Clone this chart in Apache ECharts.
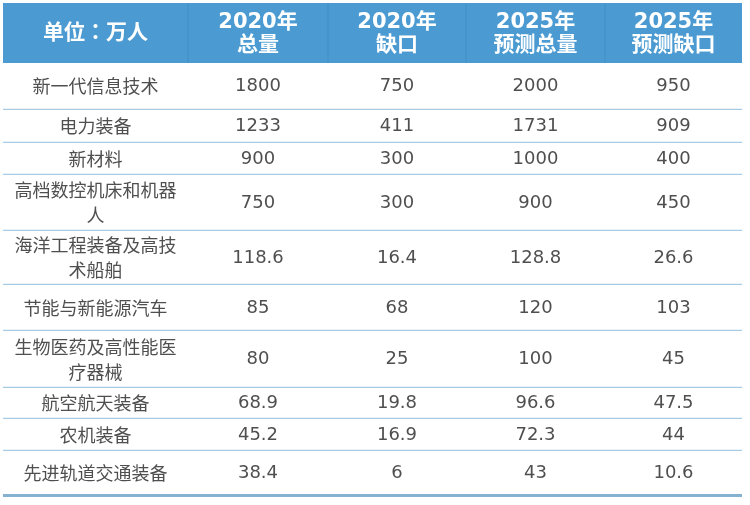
<!DOCTYPE html>
<html><head><meta charset="utf-8">
<script src="https://cdn.jsdelivr.net/npm/echarts@6/dist/echarts.min.js"></script>
<style>html,body{margin:0;padding:0;background:#fff}#c{width:750px;height:505px}</style>
</head><body><div id="c"></div>
<script>
// ---- data ----
const cornerLabel = '单位：万人';
const columnHeaders = ['2020年\n总量', '2020年\n缺口', '2025年\n预测总量', '2025年\n预测缺口'];
const industries = ['新一代信息技术', '电力装备', '新材料', '高档数控机床和机器人', '海洋工程装备及高技术船舶',
  '节能与新能源汽车', '生物医药及高性能医疗器械', '航空航天装备', '农机装备', '先进轨道交通装备'];
const total2020 = [1800, 1233, 900, 750, 118.6, 85, 80, 68.9, 45.2, 38.4];
const gap2020 = [750, 411, 300, 300, 16.4, 68, 25, 19.8, 16.9, 6];
const total2025 = [2000, 1731, 1000, 900, 128.8, 120, 100, 96.6, 72.3, 43];
const gap2025 = [950, 909, 400, 450, 26.6, 103, 45, 47.5, 44, 10.6];

// ---- layout (sizes of table cells, in axis units) ----
const colWidths = [185, 140, 138, 139, 137];
const headerHeight = 60;
const rowHeights = [47, 33, 32, 56, 54, 46, 57, 31, 32, 46];

const colEdges = [0];
colWidths.forEach(w => colEdges.push(colEdges[colEdges.length - 1] + w));
const rowEdges = [0, headerHeight];
rowHeights.forEach(h => rowEdges.push(rowEdges[rowEdges.length - 1] + h));

const headerTexts = [cornerLabel].concat(columnHeaders);
const valueCols = [total2020, gap2020, total2025, gap2025];

const headerData = headerTexts.map((t, i) => [i, 0]);
const bodyData = [];
const bodyTexts = [];
industries.forEach((name, r) => {
  bodyData.push([0, r + 1]); bodyTexts.push(name);
  valueCols.forEach((arr, c) => { bodyData.push([c + 1, r + 1]); bodyTexts.push(String(arr[r])); });
});

const FONT = '"DejaVu Sans", Verdana, "Noto Sans CJK SC", sans-serif';
const HEAD_FONT = '"DejaVu Sans", Verdana, "Noto Sans CJK JP", sans-serif';
const lastRow = industries.length;

function cellRect(api) {
  const c = api.value(0), r = api.value(1);
  const p0 = api.coord([colEdges[c], rowEdges[r]]);
  const p1 = api.coord([colEdges[c + 1], rowEdges[r + 1]]);
  return { c, r, x: p0[0], y: p0[1], w: p1[0] - p0[0], h: p1[1] - p0[1] };
}

function renderHeader(params, api) {
  const { c, x, y, w, h } = cellRect(api);
  const children = [
    { type: 'rect', shape: { x, y, width: w, height: h }, style: { fill: '#4b9bd2' } },
    { type: 'text', style: {
      x: x + w / 2, y: y + h / 2 + 1, text: headerTexts[params.dataIndex],
      align: 'center', verticalAlign: 'middle', textAlign: 'center', textVerticalAlign: 'middle',
      fill: '#ffffff', fontFamily: HEAD_FONT, fontWeight: 'bold', fontSize: 21, lineHeight: 23 } }
  ];
  if (c > 0) children.push({ type: 'line', shape: { x1: x, y1: y, x2: x, y2: y + h },
    style: { stroke: 'rgba(40,120,180,0.3)', lineWidth: 1 } });
  return { type: 'group', children };
}

function renderBody(params, api) {
  const { c, r, x, y, w, h } = cellRect(api);
  const isLabel = c === 0;
  const last = r === lastRow;
  const children = [
    { type: 'rect', shape: { x, y, width: w, height: h }, style: { fill: '#ffffff' } },
    { type: 'text', style: {
      x: x + w / 2, y: y + h / 2 + (last ? -1 : 0), text: bodyTexts[params.dataIndex],
      align: 'center', verticalAlign: 'middle', textAlign: 'center', textVerticalAlign: 'middle',
      width: isLabel ? 172 : w, overflow: 'break',
      fill: '#4f4f4f', fontFamily: isLabel ? '"Noto Sans CJK SC", sans-serif' : FONT,
      fontSize: 18, lineHeight: 25 } },
    { type: 'line', shape: { x1: x, y1: y + h - (last ? 1.5 : 0.5), x2: x + w, y2: y + h - (last ? 1.5 : 0.5) },
      style: { stroke: last ? '#86b2d2' : '#a7cae5', lineWidth: last ? 3 : 1.5 } }
  ];
  return { type: 'group', children };
}

const chart = echarts.init(document.getElementById('c'), null, { renderer: 'canvas' });
chart.setOption({
  animation: false,
  backgroundColor: '#ffffff',
  grid: { left: 3, top: 3, right: 8, bottom: 8, containLabel: false },
  xAxis: { type: 'value', min: 0, max: colEdges[colEdges.length - 1], show: false },
  yAxis: { type: 'value', min: 0, max: rowEdges[rowEdges.length - 1], inverse: true, show: false },
  series: [
    { type: 'custom', name: 'header', data: headerData, renderItem: renderHeader, silent: true },
    { type: 'custom', name: 'body', data: bodyData, renderItem: renderBody, silent: true }
  ]
});
</script>
</body></html>
